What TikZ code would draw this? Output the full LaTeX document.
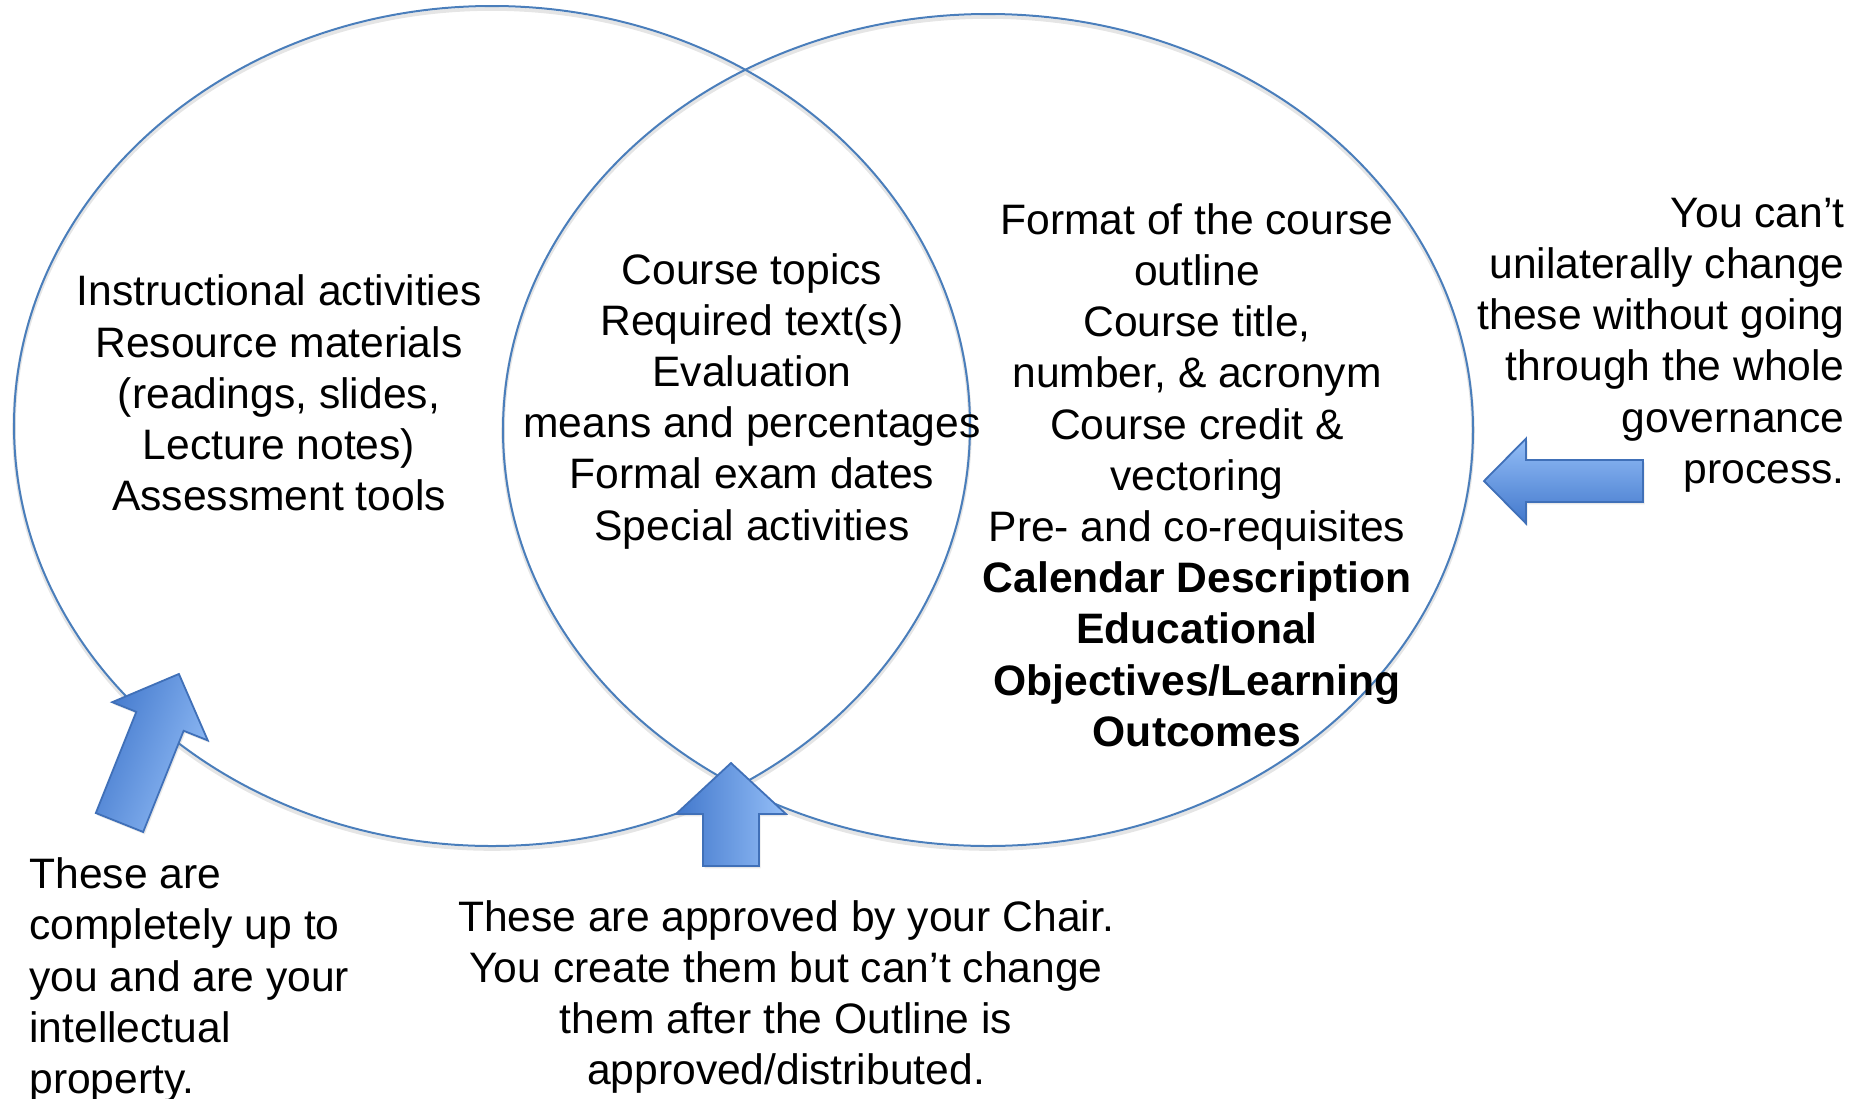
\documentclass[tikz,border=0pt]{standalone}
\usepackage{fontspec}
\setmainfont{Liberation Sans}
\usepackage{tikz}
\usetikzlibrary{shadows}

\definecolor{ringblue}{RGB}{74,126,187}
\definecolor{arrowdark}{RGB}{66,120,204}
\definecolor{arrowlight}{RGB}{148,190,247}
\definecolor{arrowline}{RGB}{64,112,184}

% block arrow along +x: [style] length, shaft width, head width, head length
\newcommand{\blockarrow}[5][]{%
  \path[#1] (0,-#3/2) -- (#2-#5,-#3/2) -- (#2-#5,-#4/2) -- (#2,0)
    -- (#2-#5,#4/2) -- (#2-#5,#3/2) -- (0,#3/2) -- cycle;}

\begin{document}
\begin{tikzpicture}[
    x=0.5pt, y=-0.5pt,
    ring/.style={draw=ringblue, line width=1pt},
    ringshade/.style={draw=black!10, line width=1.8pt},
    venntext/.style={align=center, inner sep=0pt, font=\fontsize{21.3}{25.6}\selectfont},
    bigarrow/.style={draw=arrowline, line width=0.9pt, line join=miter,
        top color=arrowdark, bottom color=arrowlight, shading angle=#1,
        drop shadow={opacity=0.18, shadow xshift=0.8pt, shadow yshift=-1.2pt}}
]
    \useasboundingbox (0,0) rectangle (1856,1098);

    % Two overlapping rings
    \draw[ringshade] (492,429) ellipse [x radius=478, y radius=420];
    \draw[ringshade] (988,433) ellipse [x radius=485, y radius=416];
    \draw[ring] (492,426) ellipse [x radius=478, y radius=420];
    \draw[ring] (988,430) ellipse [x radius=485, y radius=416];

    % Contents of each region
    \node[venntext] (own) at (279,393)
        {Instructional activities\\Resource materials\\(readings, slides,\\Lecture notes)\\Assessment tools};
    \node[venntext] (shared) at (752,401)
        {Course topics\\Required text(s)\\Evaluation\\means and percentages\\Formal exam dates\\Special activities};
    \node[venntext] (fixed) at (1197,475)
        {Format of the course\\outline\\Course title,\\number, \& acronym\\Course credit \&\\vectoring\\Pre- and co-requisites\\
         \textbf{Calendar Description}\\\textbf{Educational}\\\textbf{Objectives/Learning}\\\textbf{Outcomes}};

    % Notes
    \node[venntext, align=right, anchor=east] (fixednote) at (1845,345)
        {You can’t\\unilaterally change\\these without going\\through the whole\\governance\\process.};
    \node[venntext, align=left, anchor=west] (ownnote) at (29,980)
        {These are\\completely up to\\you and are your\\intellectual\\property.};
    \node[venntext] (sharednote) at (786,997)
        {These are approved by your Chair.\\You create them but can’t change\\them after the Outline is\\approved/distributed.};

    % Arrows pointing at the regions
    \begin{scope}[shift={(119.5,822.5)}, rotate=68.2]
        \blockarrow[bigarrow=68.2]{160}{51}{103}{51}
    \end{scope}
    \begin{scope}[shift={(731,866)}, rotate=90]
        \blockarrow[bigarrow=90]{103}{56}{110}{51}
    \end{scope}
    \begin{scope}[shift={(1643,481)}, rotate=180]
        \blockarrow[bigarrow=180]{159}{42}{85}{42}
    \end{scope}
\end{tikzpicture}
\end{document}
